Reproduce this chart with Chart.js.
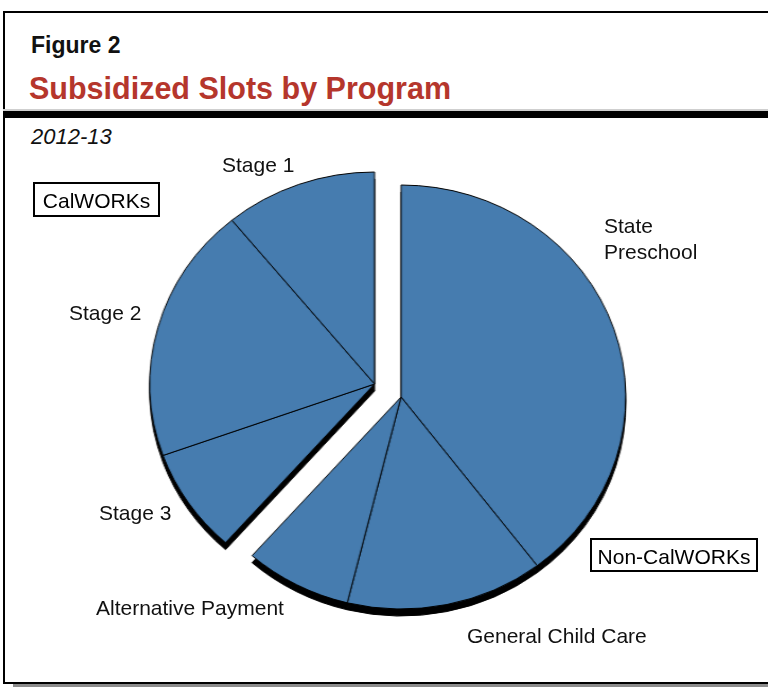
<!DOCTYPE html>
<html>
<head>
<meta charset="utf-8">
<script src="https://cdn.jsdelivr.net/npm/chart.js@4.4.0/dist/chart.umd.min.js"></script>
<style>
    body { margin: 0; width: 768px; height: 687px; overflow: hidden; background: #fff; font-family: "Liberation Sans", Arial, sans-serif; }
    .frame { position: absolute; left: 3px; top: 11px; width: 820px; height: 669px; border: 2px solid #000; box-shadow: 10px 3px 0 #8c8c8c; }
    .rule { position: absolute; left: 3px; top: 109px; width: 800px; height: 2px; background: #cfcfcf; }
    .rule2 { position: absolute; left: 3px; top: 111px; width: 800px; height: 7px; background: #000; }
    .txt { position: absolute; white-space: nowrap; line-height: 1; color: #111; }
    .fig { left: 31px; top: 34px; font-size: 23px; font-weight: bold; }
    .title { left: 29px; top: 73px; font-size: 30.5px; font-weight: bold; color: #b5362c; }
    .year { left: 31px; top: 126px; font-size: 22px; font-style: italic; }
    .lbl { font-size: 21px; }
    .box { position: absolute; border: 2px solid #000; font-size: 21px; line-height: 1; box-sizing: border-box; padding-top: 6px; text-align: center; }
    #pie { position: absolute; left: 0; top: 0; width: 768px; height: 687px; transform-origin: 401px 397px; transform: scaleX(1.06); }
    #pie canvas { position: absolute; filter: drop-shadow(0 7px 0 #000); }
</style>
</head>
<body>
<div class="frame"></div>
<div class="rule"></div>
<div class="rule2"></div>
<div class="txt fig">Figure 2</div>
<div class="txt title">Subsidized Slots by Program</div>
<div class="txt year">2012-13</div>

<div id="pie">
    <canvas id="calworksPie" width="460" height="460" style="left:146px;top:154px;width:460px;height:460px"></canvas>
    <canvas id="otherPie" width="460" height="460" style="left:171px;top:167px;width:460px;height:460px"></canvas>
</div>

<div class="txt lbl" style="left:222px;top:154px">Stage 1</div>
<div class="txt lbl" style="left:604px;top:215px">State</div>
<div class="txt lbl" style="left:604px;top:241px">Preschool</div>
<div class="txt lbl" style="left:69px;top:302px">Stage 2</div>
<div class="txt lbl" style="left:99px;top:502px">Stage 3</div>
<div class="txt lbl" style="left:96px;top:597px">Alternative Payment</div>
<div class="txt lbl" style="left:467px;top:625px">General Child Care</div>
<div class="box" style="left:33px;top:182px;width:127px;height:35px">CalWORKs</div>
<div class="box" style="left:590px;top:538px;width:168px;height:34px">Non-CalWORKs</div>

<script>
    'use strict';
    // clockwise from 12 o'clock
    var programs = ['State Preschool', 'General Child Care', 'Alternative Payment', 'Stage 3', 'Stage 2', 'Stage 1'];
    // subsidized slots, thousands
    var slots = [134, 48, 26, 27, 66, 37];
    var isCalworks = [false, false, false, true, true, true];

    var blue = '#467caf';
    var none = 'rgba(0,0,0,0)';

    function pieConfig(showCalworks) {
        var show = isCalworks.map(function (c) { return c === showCalworks; });
        return {
            type: 'pie',
            data: {
                labels: programs,
                datasets: [{
                    data: slots,
                    backgroundColor: show.map(function (s) { return s ? blue : none; }),
                    borderColor: show.map(function (s) { return s ? '#000' : none; }),
                    borderWidth: show.map(function (s) { return s ? 1 : 0; })
                }]
            },
            options: {
                responsive: false,
                animation: false,
                radius: 212,
                layout: { padding: 0 },
                plugins: {
                    legend: { display: false },
                    tooltip: { enabled: false }
                }
            }
        };
    }

    new Chart(document.getElementById('calworksPie').getContext('2d'), pieConfig(true));
    new Chart(document.getElementById('otherPie').getContext('2d'), pieConfig(false));
</script>
</body>
</html>
